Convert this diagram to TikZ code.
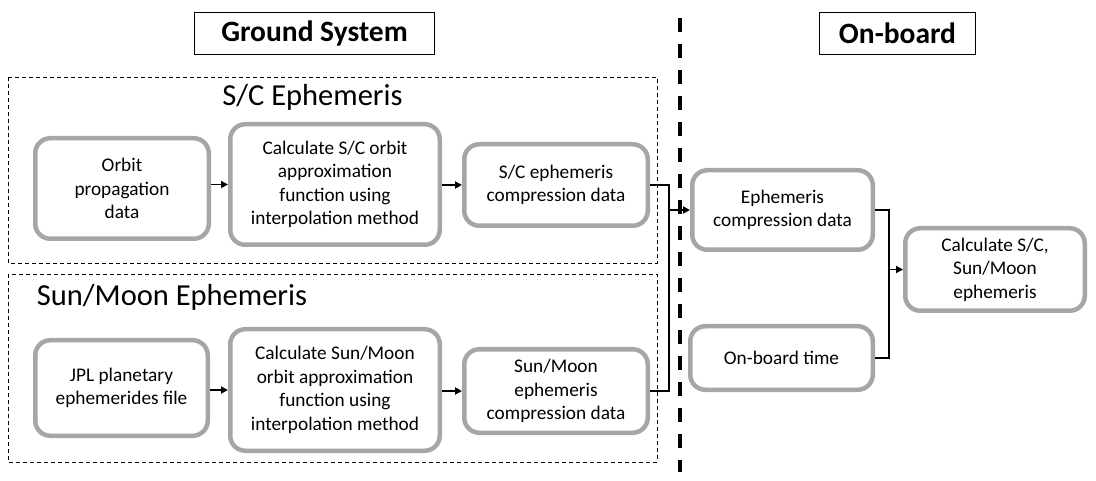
\documentclass[tikz,border=0pt]{standalone}
\usepackage{fontspec}
\setmainfont{Carlito}
\usetikzlibrary{arrows.meta}
\definecolor{boxgray}{RGB}{166,166,166}
\begin{document}
\begin{tikzpicture}[x=1pt,y=-1pt,
  proc/.style={draw=boxgray, line width=4.5pt, rounded corners=15pt, fill=white,
    align=center, inner sep=0pt, font=\fontsize{19.3pt}{23.5pt}\selectfont},
  headbox/.style={draw=black, line width=1pt, inner sep=0pt, minimum height=42pt,
    font=\fontsize{29.5pt}{32pt}\selectfont\bfseries},
  group/.style={draw=black, line width=0.8pt, dash pattern=on 4pt off 3pt},
  grouptitle/.style={anchor=base, inner sep=0pt, font=\fontsize{30.5pt}{34pt}\selectfont},
  divider/.style={line width=4pt, dash pattern=on 14pt off 12pt},
  conn/.style={draw=black, line width=1.8pt},
  arr/.style={conn, -{Triangle[length=7pt,width=7pt]}}]
\useasboundingbox (0,0) rectangle (1096,481);

% header boxes
\node[headbox, minimum width=240pt] (ground) at (314.5,33.5) {Ground System};
\node[headbox, minimum width=156pt] (onboard) at (897.5,33.5) {On-board};

% divider
\coordinate (divtop) at (679.5,18);
\coordinate (divbot) at (679.5,472);
\draw[divider] (divtop) -- (divbot);

% groups
\draw[group] (8,77) rectangle (657,263);
\draw[group] (8,274) rectangle (657,462);
\node[grouptitle] (sctitle) at (312.5,106) {S/C Ephemeris};
\node[grouptitle] (smtitle) at (172,306) {Sun/Moon Ephemeris};

% process boxes
\node[proc, minimum width=173.5pt, minimum height=100.5pt] (orbit) at (122,188.5) {Orbit\\propagation\\data};
\node[proc, minimum width=209.5pt, minimum height=120.5pt] (calcsc) at (335,184.5) {Calculate S/C orbit\\approximation\\function using\\interpolation method};
\node[proc, minimum width=183.5pt, minimum height=81.5pt] (sccomp) at (556,185) {S/C ephemeris\\compression data};
\node[proc, minimum width=172.5pt, minimum height=95.5pt] (jpl) at (121.5,388) {JPL planetary\\ephemerides file};
\node[proc, minimum width=209.5pt, minimum height=121.5pt] (calcsm) at (335,390) {Calculate Sun/Moon\\orbit approximation\\function using\\interpolation method};
\node[proc, minimum width=183.5pt, minimum height=83.5pt] (smcomp) at (556,391) {Sun/Moon\\ephemeris\\compression data};
\node[proc, minimum width=180.5pt, minimum height=79.5pt] (ephcomp) at (782.5,210) {Ephemeris\\compression data};
\node[proc, minimum width=182.5pt, minimum height=63.5pt] (obt) at (781.5,358) {On-board time};
\node[proc, minimum width=179.5pt, minimum height=82.5pt] (calcall) at (995,269.5) {Calculate S/C,\\Sun/Moon\\ephemeris};

% arrows inside groups
\draw[arr] (orbit.east |- calcsc.west) -- (calcsc.west);
\draw[arr] (calcsc.east |- sccomp.west) -- (sccomp.west);
\draw[arr] (jpl.east |- calcsm.west) -- (calcsm.west);
\draw[arr] (calcsm.east |- smcomp.west) -- (smcomp.west);

% merge to on-board
\coordinate (jl) at (669,0);
\draw[conn] (sccomp.east) -| (jl |- smcomp.east) -- (smcomp.east);
\draw[arr] (jl |- ephcomp.west) -- (ephcomp.west);

\coordinate (jr) at (889,0);
\draw[conn] (ephcomp.east) -| (jr |- obt.east) -- (obt.east);
\draw[arr] (jr |- calcall.west) -- (calcall.west);
\end{tikzpicture}
\end{document}
